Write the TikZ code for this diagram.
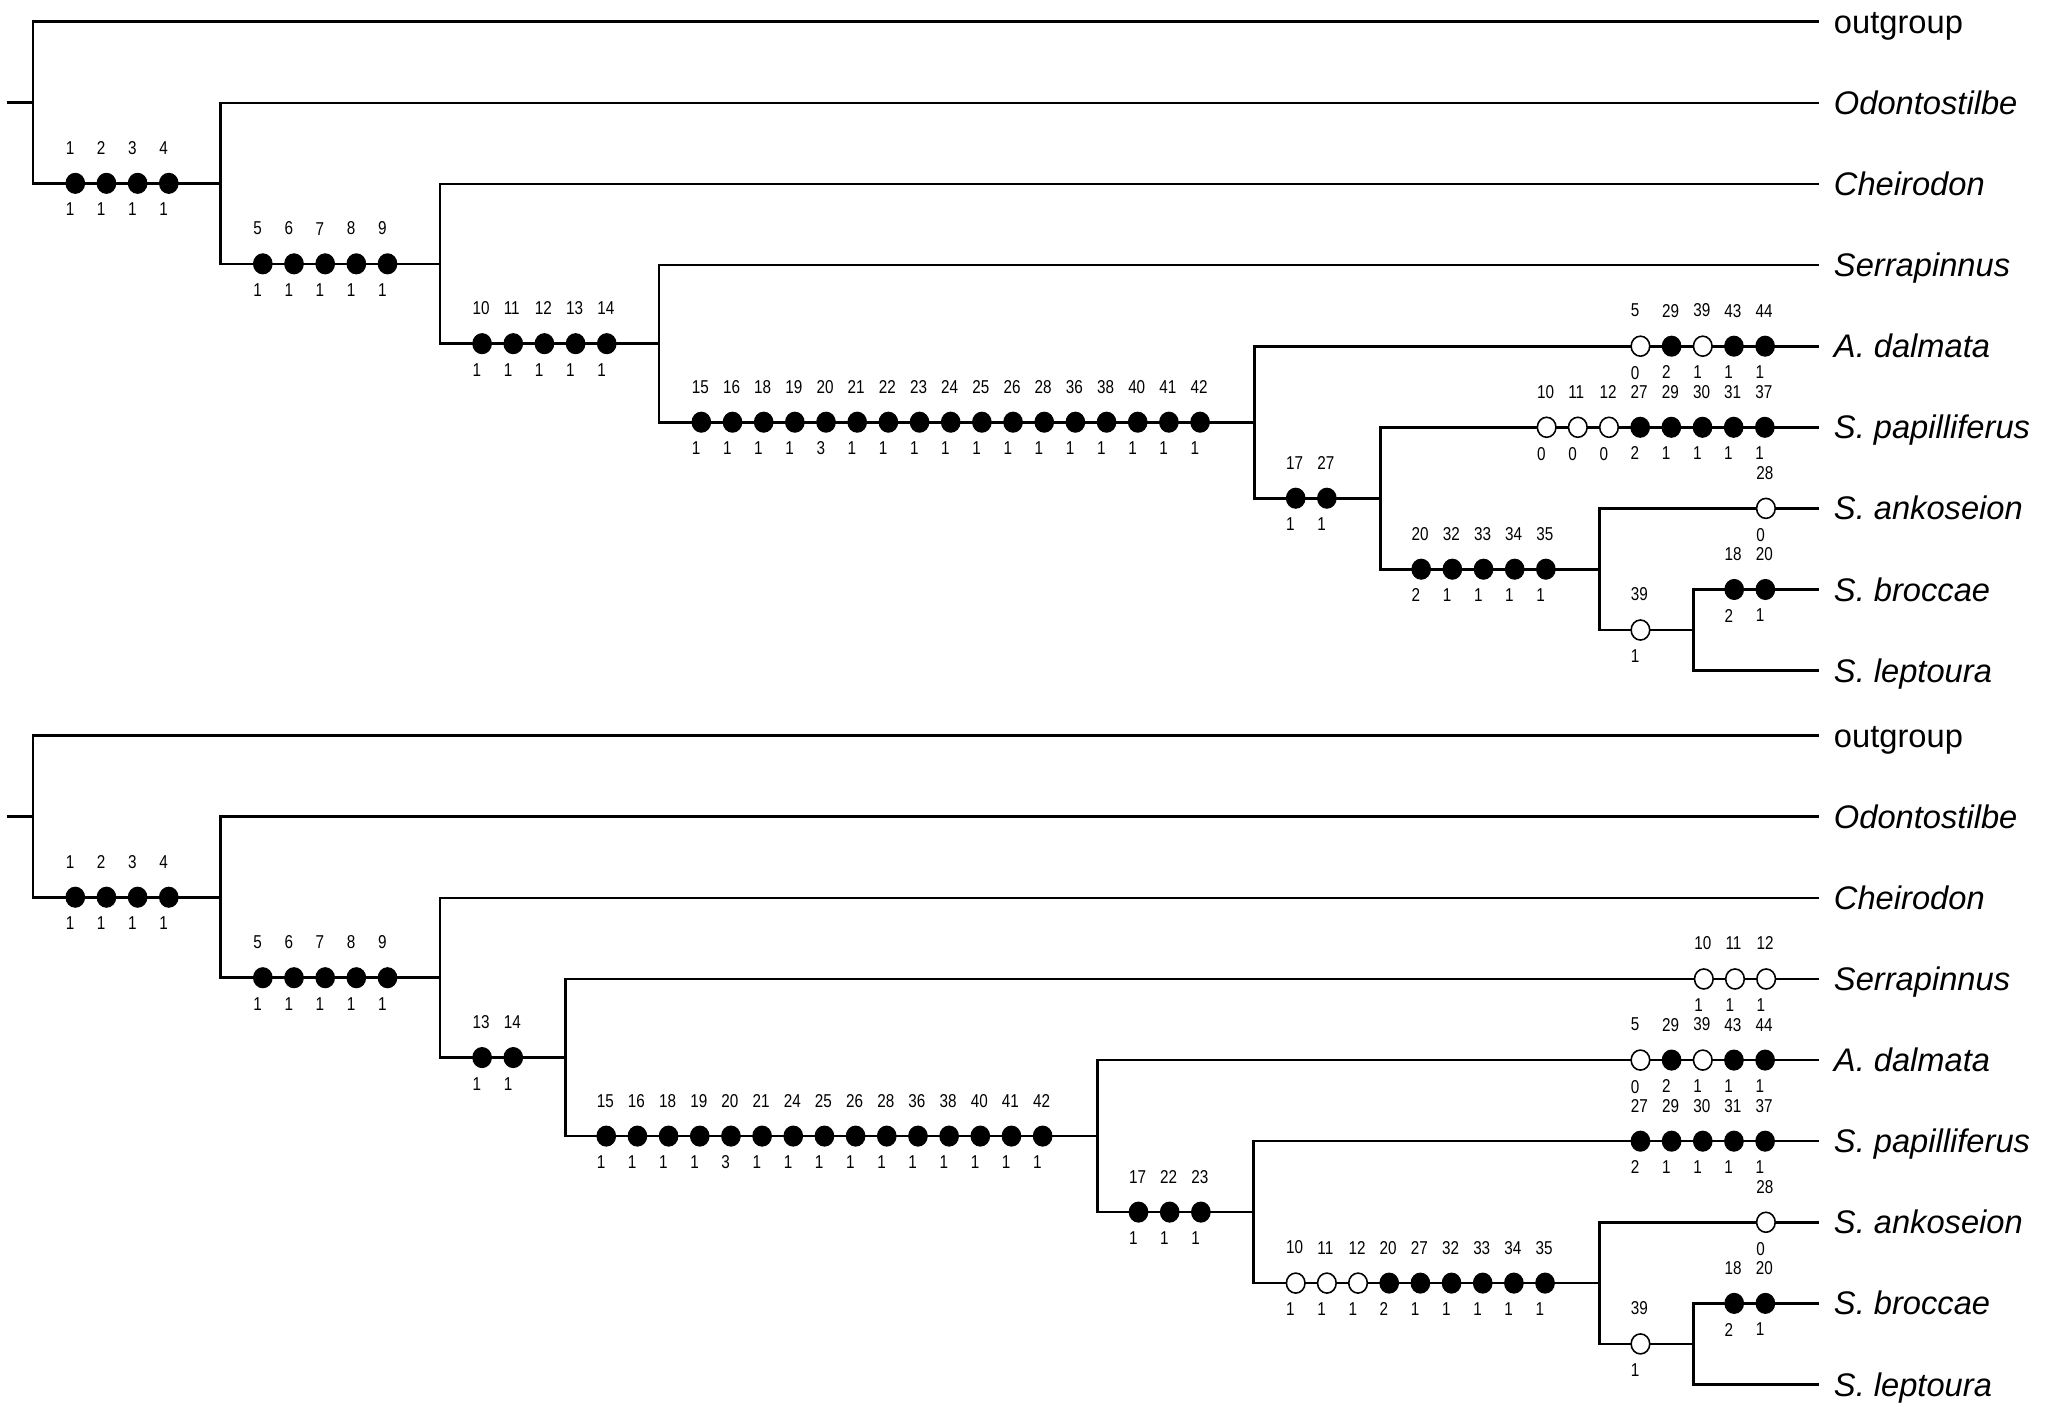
\documentclass[tikz,border=0pt]{standalone}
\usepackage{fontspec}
\setmainfont{Liberation Sans}
\newfontfamily\numfont[FakeStretch=0.82]{Liberation Sans}
\usetikzlibrary{shapes.geometric,positioning}

\begin{document}
\begin{tikzpicture}[
    x=0.013208cm, y=-0.013208cm,
    branch/.style={draw=black, line width=0.75pt},
    syn/.style={ellipse, draw=black, fill=black, line width=0.3pt, minimum width=5.3pt, minimum height=5.7pt, inner sep=0pt},
    hom/.style={syn, fill=white, line width=0.45pt},
    chr/.style={inner sep=0pt, text width=5.4pt, align=left, font=\numfont\fontsize{5.3}{5.5}\selectfont},
    taxon/.style={anchor=base west, inner sep=0pt, yshift=-3.3pt, font=\fontsize{9.3}{11}\selectfont\itshape}
]
    \useasboundingbox (0,0) rectangle (1568,1065);

    % Tree skeleton (both trees share the same layout)
    \foreach \p/\dy/\xa/\xb/\xc in {t/0/499/950/1045, b/540.5/428/831/949} {
        \foreach \n/\y/\txt in {og/16.5/{\upshape outgroup}, odo/77.9/Odontostilbe, che/139.3/Cheirodon,
                ser/200.7/Serrapinnus, dal/262.1/A. dalmata, pap/323.5/S. papilliferus,
                ank/384.9/S. ankoseion, bro/446.3/S. broccae, lep/507.7/S. leptoura} {
            \coordinate (\p-\n) at (1377,{\y+\dy});
            \node[taxon] (\p-\n-lbl) at (1388,{\y+\dy}) {\txt};
        }
        \coordinate (\p-base) at (5,{77.65+\dy});
        \coordinate (\p-n1) at (25,{77.65+\dy});
        \coordinate (\p-n2) at (167,{138.8+\dy});
        \coordinate (\p-n3) at (333,{199.75+\dy});
        \coordinate (\p-n4) at (\xa,{260.2+\dy});
        \coordinate (\p-n5) at (\xb,{319.65+\dy});
        \coordinate (\p-n6) at (\xc,{377.2+\dy});
        \coordinate (\p-n7) at (1211,{430.95+\dy});
        \coordinate (\p-n8) at (1282,{477+\dy});

        \draw[branch] (\p-base) -- (\p-n1);
        \draw[branch] (\p-og) -| (\p-n1) |- (\p-n2);
        \draw[branch] (\p-odo) -| (\p-n2) |- (\p-n3);
        \draw[branch] (\p-che) -| (\p-n3) |- (\p-n4);
        \draw[branch] (\p-ser) -| (\p-n4) |- (\p-n5);
        \draw[branch] (\p-dal) -| (\p-n5) |- (\p-n6);
        \draw[branch] (\p-pap) -| (\p-n6) |- (\p-n7);
        \draw[branch] (\p-ank) -| (\p-n7) |- (\p-n8);
        \draw[branch] (\p-bro) -| (\p-n8) |- (\p-lep);
    }

    % Character changes: branch / first x / y / {kind/character/state}
    \foreach \b/\x/\y/\L in {
        a1/57/138.8/{syn/1/1,syn/2/1,syn/3/1,syn/4/1},
        a2/199/199.75/{syn/5/1,syn/6/1,syn/7/1,syn/8/1,syn/9/1},
        a3/365/260.2/{syn/10/1,syn/11/1,syn/12/1,syn/13/1,syn/14/1},
        a4/531/319.65/{syn/15/1,syn/16/1,syn/18/1,syn/19/1,syn/20/3,syn/21/1,syn/22/1,syn/23/1,syn/24/1,
            syn/25/1,syn/26/1,syn/28/1,syn/36/1,syn/38/1,syn/40/1,syn/41/1,syn/42/1},
        a5/981/377.2/{syn/17/1,syn/27/1},
        a6/1076/430.95/{syn/20/2,syn/32/1,syn/33/1,syn/34/1,syn/35/1},
        a7/1242/477/{hom/39/1},
        adal/1242/262.1/{hom/5/0,syn/29/2,hom/39/1,syn/43/1,syn/44/1},
        apap/1171/323.5/{hom/10/0,hom/11/0,hom/12/0,syn/27/2,syn/29/1,syn/30/1,syn/31/1,syn/37/1},
        aank/1337/384.9/{hom/28/0},
        abro/1313/446.3/{syn/18/2,syn/20/1},
        b1/57/679.3/{syn/1/1,syn/2/1,syn/3/1,syn/4/1},
        b2/199/740.25/{syn/5/1,syn/6/1,syn/7/1,syn/8/1,syn/9/1},
        b3/365/800.7/{syn/13/1,syn/14/1},
        b4/459/860.15/{syn/15/1,syn/16/1,syn/18/1,syn/19/1,syn/20/3,syn/21/1,syn/24/1,syn/25/1,
            syn/26/1,syn/28/1,syn/36/1,syn/38/1,syn/40/1,syn/41/1,syn/42/1},
        b5/862/917.7/{syn/17/1,syn/22/1,syn/23/1},
        b6/981/971.45/{hom/10/1,hom/11/1,hom/12/1,syn/20/2,syn/27/1,syn/32/1,syn/33/1,syn/34/1,syn/35/1},
        b7/1242/1017.5/{hom/39/1},
        bser/1290/741.2/{hom/10/1,hom/11/1,hom/12/1},
        bdal/1242/802.6/{hom/5/0,syn/29/2,hom/39/1,syn/43/1,syn/44/1},
        bpap/1242/864/{syn/27/2,syn/29/1,syn/30/1,syn/31/1,syn/37/1},
        bank/1337/925.4/{hom/28/0},
        bbro/1313/986.8/{syn/18/2,syn/20/1}} {
        \foreach \m/\c/\s [count=\k from 0] in \L {
            \node[\m] (\b-\k) at ({\x+23.6*\k},\y) {};
            \node[chr, above=5pt of \b-\k] (\b-\k-up) {\c};
            \node[chr, below=2.4pt of \b-\k] (\b-\k-dn) {\s};
        }
    }
\end{tikzpicture}
\end{document}
